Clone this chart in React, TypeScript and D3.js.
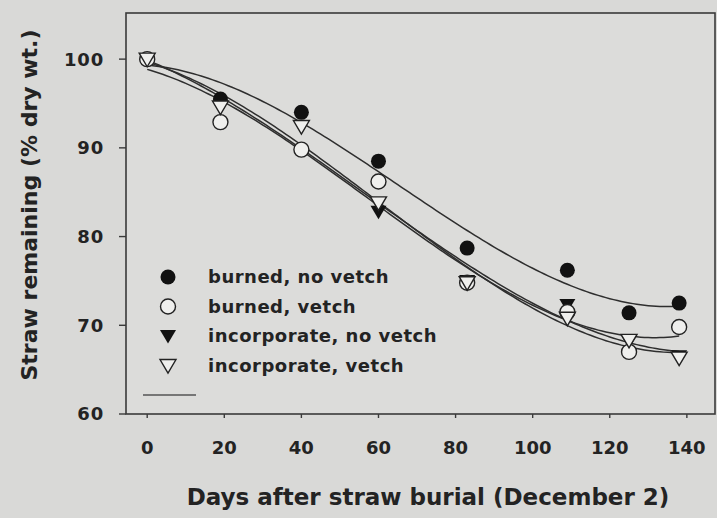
import * as d3 from "d3";

const days = [0, 19, 40, 60, 83, 109, 125, 138];
const burnedNoVetch = [100, 95.5, 94.0, 88.5, 78.7, 76.2, 71.4, 72.5];
const burnedVetch = [100, 92.9, 89.8, 86.2, 74.8, 71.5, 67.0, 69.8];
const incorpNoVetch = [100, 94.6, 92.4, 82.8, 75.0, 72.3, 68.2, 66.5];
const incorpVetch = [100, 94.6, 92.4, 83.8, 74.8, 70.8, 68.3, 66.3];

const xTicks = [0, 20, 40, 60, 80, 100, 120, 140];
const yTicks = [60, 70, 80, 90, 100];

const seriesNames = [
  "burned, no vetch",
  "burned, vetch",
  "incorporate, no vetch",
  "incorporate, vetch",
];

const W = 717;
const H = 518;
const font = "'DejaVu Sans', Verdana, sans-serif";
const ink = "#232323";

// least squares cubic, to redraw the fitted curves from the points
function cubicFit(xs: number[], ys: number[]) {
  const n = 4;
  const A = Array.from({ length: n }, () => new Array(n + 1).fill(0));
  xs.forEach((x, k) => {
    for (let i = 0; i < n; i++) {
      for (let j = 0; j < n; j++) A[i][j] += Math.pow(x, i + j);
      A[i][n] += Math.pow(x, i) * ys[k];
    }
  });
  for (let i = 0; i < n; i++) {
    let p = i;
    for (let r = i + 1; r < n; r++) if (Math.abs(A[r][i]) > Math.abs(A[p][i])) p = r;
    [A[i], A[p]] = [A[p], A[i]];
    for (let r = 0; r < n; r++) {
      if (r === i) continue;
      const f = A[r][i] / A[i][i];
      for (let c = i; c <= n; c++) A[r][c] -= f * A[i][c];
    }
  }
  const c = A.map((row, i) => row[n] / row[i]);
  return (x: number) => c[0] + c[1] * x + c[2] * x * x + c[3] * x * x * x;
}

export default function App() {
  const x = d3.scaleLinear().domain([-5.5, 147.3]).range([126, 715]);
  const y = d3.scaleLinear().domain([60, 105.2]).range([414, 13]);

  const all = [burnedNoVetch, burnedVetch, incorpNoVetch, incorpVetch];
  const line = d3.line<number>().x((d) => x(d));

  const grid = d3.range(0, 138.5, 1);
  const curves = all.map((vals) => {
    const f = cubicFit(days, vals);
    return line.y((d) => y(f(d)))(grid) ?? "";
  });

  const r = 7.5;
  const tri = (cx: number, cy: number, s = 8) =>
    `M${cx - s},${cy - s * 0.75}L${cx + s},${cy - s * 0.75}L${cx},${cy + s * 0.95}Z`;

  const marker = (i: number, cx: number, cy: number, key: string) => {
    if (i === 0) return <circle key={key} cx={cx} cy={cy} r={r} fill="#111" />;
    if (i === 1)
      return <circle key={key} cx={cx} cy={cy} r={r} fill="#efefed" stroke="#222" strokeWidth={1.4} />;
    if (i === 2) return <path key={key} d={tri(cx, cy)} fill="#111" />;
    return <path key={key} d={tri(cx, cy)} fill="#efefed" stroke="#222" strokeWidth={1.4} />;
  };

  const drawOrder = [0, 2, 1, 3];

  return (
    <svg width={W} height={H} style={{ display: "block", position: "absolute", left: 0, top: 0 }}>
      <rect width={W} height={H} fill="#d9d9d7" />
      <rect x={126} y={13} width={589} height={401} fill="#dcdcda" stroke="#3a3a3a" strokeWidth={1.6} />

      {yTicks.map((t) => (
        <g key={t}>
          <line x1={119} x2={126} y1={y(t)} y2={y(t)} stroke="#3a3a3a" strokeWidth={1.4} />
          <text
            x={104}
            y={y(t)}
            dy="0.36em"
            textAnchor="end"
            fontFamily={font}
            fontWeight="bold"
            fontSize={18}
            letterSpacing={0.8}
            fill={ink}
          >
            {t}
          </text>
        </g>
      ))}

      {xTicks.map((t) => (
        <g key={t}>
          <line x1={x(t)} x2={x(t)} y1={414} y2={418} stroke="#3a3a3a" strokeWidth={1.4} />
          <text
            x={x(t)}
            y={454}
            textAnchor="middle"
            fontFamily={font}
            fontWeight="bold"
            fontSize={18}
            fill={ink}
          >
            {t}
          </text>
        </g>
      ))}

      {curves.map((d, i) => (
        <path key={i} d={d} fill="none" stroke="#2e2e2e" strokeWidth={1.5} />
      ))}

      {drawOrder.map((i) =>
        days.map((d, k) => marker(i, x(d), y(all[i][k]), `${i}-${k}`))
      )}

      {seriesNames.map((name, i) => (
        <g key={name}>
          {marker(i, 168, 277 + i * 29.5, `leg-${i}`)}
          <text
            x={208}
            y={277 + i * 29.5}
            dy="0.36em"
            fontFamily={font}
            fontWeight="bold"
            fontSize={18}
            letterSpacing={0.5}
            fill={ink}
          >
            {name}
          </text>
        </g>
      ))}
      <line x1={143} x2={196} y1={395} y2={395} stroke="#555" strokeWidth={1.5} />

      <text
        transform="translate(37,205) rotate(-90)"
        textAnchor="middle"
        fontFamily={font}
        fontWeight="bold"
        fontSize={22}
        fill={ink}
      >
        Straw remaining (% dry wt.)
      </text>
      <text
        x={428}
        y={505}
        textAnchor="middle"
        fontFamily={font}
        fontWeight="bold"
        fontSize={23}
        fill={ink}
      >
        Days after straw burial (December 2)
      </text>
    </svg>
  );
}
